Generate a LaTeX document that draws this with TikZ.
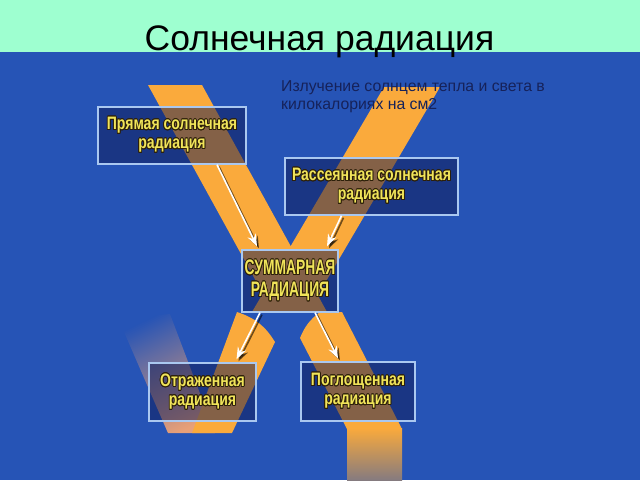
\documentclass[tikz,border=0pt]{standalone}
\usepackage{fontspec}
\setmainfont{Liberation Sans}
\usepackage{contour}
\usetikzlibrary{arrows.meta,fadings}
\definecolor{mint}{RGB}{158,255,208}
\definecolor{sky}{RGB}{38,84,182}
\definecolor{amber}{RGB}{250,170,60}
\definecolor{navy}{RGB}{16,26,83}
\definecolor{frame}{RGB}{170,200,240}
\definecolor{gold}{RGB}{240,228,90}
\definecolor{edge}{RGB}{45,32,10}
\definecolor{ink}{RGB}{22,34,90}
\definecolor{dust}{RGB}{232,160,120}
\contourlength{1pt}
\newcommand\glow[2][0.78]{\scalebox{#1}[1]{\contour{edge}{#2}}}

\begin{document}
\begin{tikzpicture}[x=1pt, y=-1pt, >=stealth]
    \tikzset{box/.style={draw=frame, line width=1.4pt, fill=navy, fill opacity=0.5,
        text opacity=1, text=gold, align=center, inner sep=0pt,
        font=\bfseries\fontsize{18}{19}\selectfont}}
    \tikzset{ray/.style={draw=white, line width=1.6pt, -{Stealth[length=12pt,width=9pt]}}}
    \tikzset{rayshade/.style={ray, draw=black, opacity=0.55,
        transform canvas={shift={(2pt,-2pt)}}}}
    \useasboundingbox (0,0) rectangle (640,480);
    \fill[sky] (0,0) rectangle (640,480);
    \fill[mint] (0,0) rectangle (640,52);
    % light bands
    \fill[dust, path fading=north, fading angle=22]
        (118,318) -- (170,314) -- (215,433) -- (168,433) -- cycle;
    \fill[amber] (148,85) -- (202,85) -- (327,312) -- (273,312) -- cycle;
    \fill[amber] (384,87) -- (440,87) -- (308,312) -- (252,312) -- cycle;
    \fill[amber] (237,312) to[bend left=20] (275,342) -- (232,433) -- (192,433) -- cycle;
    \fill[amber] (300,338) to[bend left=15] (320,312) -- (342,312) -- (402,429)
        -- (347,429) -- cycle;
    \shade[top color=amber, middle color=amber!85!sky, bottom color=amber!45!sky]
        (347,428) rectangle (402,480);
    % texts
    \node[anchor=base, font=\fontsize{35.5}{40}\selectfont] (title) at (319.5,50)
        {Солнечная радиация};
    \node[anchor=north west, align=left, text=ink, inner sep=0pt,
        font=\fontsize{15.8}{18}\selectfont] (note) at (281,80)
        {Излучение солнцем тепла и света в\\килокалориях на см2};
    % boxes
    \node[box, minimum width=148pt, minimum height=57pt] (direct) at (172,135.5)
        {\glow{Прямая солнечная}\\\glow{радиация}};
    \node[box, minimum width=173pt, minimum height=57pt] (diffuse) at (371.5,186.5)
        {\glow{Рассеянная солнечная}\\\glow{радиация}};
    \node[box, minimum width=96pt, minimum height=62pt,
        font=\bfseries\fontsize{21}{22}\selectfont] (total) at (290,281)
        {\glow[0.66]{СУММАРНАЯ}\\\glow[0.66]{РАДИАЦИЯ}};
    \node[box, minimum width=107pt, minimum height=58pt] (reflected) at (202.5,392)
        {\glow{Отраженная}\\\glow{радиация}};
    \node[box, minimum width=114pt, minimum height=59pt] (absorbed) at (358,391.5)
        {\glow{Поглощенная}\\\glow{радиация}};
    % arrows
    \draw[rayshade] ([xshift=45pt]direct.south) -- ([xshift=-33pt,yshift=3pt]total.north);
    \draw[ray] ([xshift=45pt]direct.south) -- ([xshift=-33pt,yshift=3pt]total.north);
    \draw[rayshade] ([xshift=-30pt]diffuse.south) -- ([xshift=37pt,yshift=3pt]total.north);
    \draw[ray] ([xshift=-30pt]diffuse.south) -- ([xshift=37pt,yshift=3pt]total.north);
    \draw[rayshade] ([xshift=-30pt]total.south) -- ([xshift=34pt,yshift=3pt]reflected.north);
    \draw[ray] ([xshift=-30pt]total.south) -- ([xshift=34pt,yshift=3pt]reflected.north);
    \draw[rayshade] ([xshift=25pt]total.south) -- ([xshift=-20pt,yshift=3pt]absorbed.north);
    \draw[ray] ([xshift=25pt]total.south) -- ([xshift=-20pt,yshift=3pt]absorbed.north);
\end{tikzpicture}
\end{document}
